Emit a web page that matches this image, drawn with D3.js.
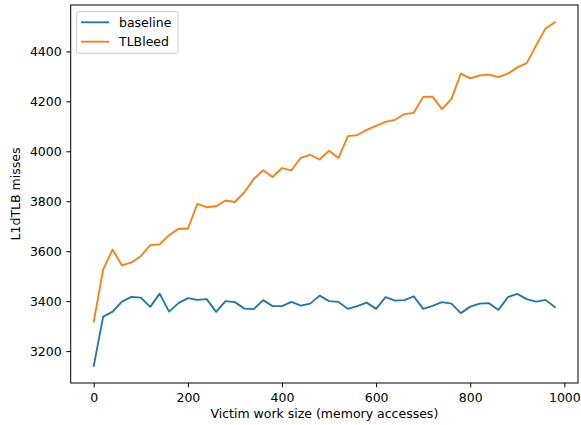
<!DOCTYPE html>
<html><head><meta charset="utf-8">
<script src="https://cdn.jsdelivr.net/npm/d3@7"></script>
<style>body{margin:0;background:#fff}svg{display:block;font-family:"DejaVu Sans",sans-serif}</style>
</head><body><svg id="c" width="581" height="425"></svg>
<script>
const xValues = d3.range(0, 1000, 20);
const baseline = [3141,3338,3358,3398,3417,3414,3377,3430,3358,3392,3412,3405,3408,3357,3400,3396,3370,3368,3404,3380,3380,3397,3382,3390,3422,3400,3397,3369,3380,3394,3369,3416,3402,3404,3419,3369,3381,3396,3390,3352,3378,3390,3392,3365,3416,3429,3408,3398,3405,3376];
const tlbleed = [3318,3527,3606,3543,3555,3580,3624,3627,3664,3690,3690,3789,3776,3780,3803,3797,3836,3889,3924,3897,3933,3924,3974,3986,3967,4002,3973,4061,4065,4086,4102,4118,4126,4149,4154,4218,4219,4169,4210,4311,4292,4304,4307,4297,4311,4336,4353,4424,4492,4517];
const seriesNames = ["baseline","TLBleed"];
const colors = ["#1f77b4","#ff7f0e"];
const xTicks = [0,200,400,600,800,1000];
const yTicks = [3200,3400,3600,3800,4000,4200,4400];

const FS = 12.5;
const svg = d3.select("#c");
const L=70.7,R=578,T=5,B=383;
const allY = baseline.concat(tlbleed);
const ymin=d3.min(allY), ymax=d3.max(allY), yr=ymax-ymin;
const xr = 980;
const x = d3.scaleLinear().domain([-0.05*xr, 980+0.05*xr]).range([L,R]);
const y = d3.scaleLinear().domain([ymin-0.05*yr, ymax+0.05*yr]).range([B,T]);

const line = d3.line().x((d,i)=>x(xValues[i])).y(d=>y(d));
[baseline,tlbleed].forEach((s,k)=>{
  svg.append("path").datum(s).attr("d",line).attr("fill","none")
    .attr("stroke",colors[k]).attr("stroke-width",1.85).attr("stroke-linejoin","round").attr("stroke-linecap","square");
});

const xa = svg.append("g").attr("transform",`translate(0,${B})`)
  .call(d3.axisBottom(x).tickValues(xTicks).tickSize(4.3).tickPadding(5.7).tickFormat(d3.format("d")));
const ya = svg.append("g").attr("transform",`translate(${L},0)`)
  .call(d3.axisLeft(y).tickValues(yTicks).tickSize(4.3).tickPadding(4.7).tickFormat(d3.format("d")));
[xa,ya].forEach(a=>{
  a.select(".domain").remove();
  a.selectAll(".tick line").attr("stroke","#000").attr("stroke-width",1);
  a.selectAll(".tick text").attr("font-size",FS).attr("fill","#000").attr("font-family","DejaVu Sans");
});

svg.append("rect").attr("x",L).attr("y",T).attr("width",R-L).attr("height",B-T)
  .attr("fill","none").attr("stroke","#000").attr("stroke-width",1);

svg.append("text").attr("x",(L+R)/2).attr("y",418).attr("text-anchor","middle")
  .attr("font-size",FS).text("Victim work size (memory accesses)");
svg.append("text").attr("transform",`translate(19.5,${(T+B)/2}) rotate(-90)`).attr("text-anchor","middle")
  .attr("font-size",FS).text("L1dTLB misses");

const lg = svg.append("g");
lg.append("rect").attr("x",76.7).attr("y",11.7).attr("width",101.3).attr("height",41.6).attr("rx",2)
  .attr("fill","#fff").attr("fill-opacity",0.8).attr("stroke","#cccccc").attr("stroke-width",1);
seriesNames.forEach((n,k)=>{
  const yy = 22.3 + k*19.4;
  lg.append("line").attr("x1",81).attr("x2",109).attr("y1",yy).attr("y2",yy).attr("stroke",colors[k]).attr("stroke-width",1.85);
  lg.append("text").attr("x",119).attr("y",yy+4.5).attr("font-size",FS).text(n);
});
</script></body></html>
